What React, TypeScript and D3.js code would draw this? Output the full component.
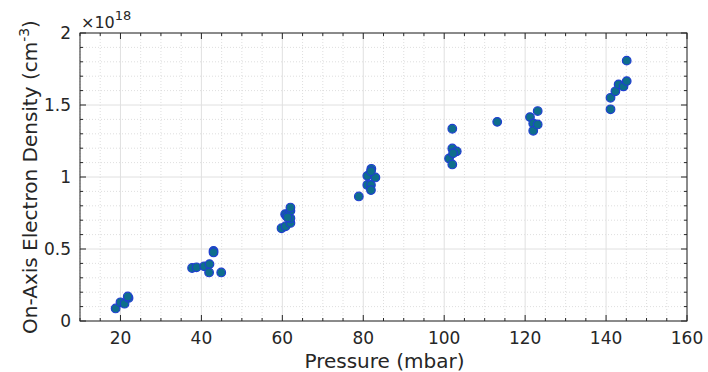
import React from "react";
import * as d3 from "d3";

const pressure = [
  18.8, 20, 21, 22, 21.8,
  37.7, 38.8, 40.7, 42, 41.9, 43, 43, 44.9,
  59.8, 60.8, 60.7, 61, 62, 62, 62, 62, 61.3,
  78.9, 81, 81, 81.9, 82, 81.9, 83, 81.9,
  101.2, 102, 102, 103.1, 102, 102.2,
  113.1,
  121.2, 122, 123.1, 122, 123.1,
  141.1, 141.1, 142.3, 143.1, 144.3, 145.1, 145.1,
];
const density = [
  0.087, 0.13, 0.12, 0.16, 0.17,
  0.368, 0.373, 0.38, 0.395, 0.337, 0.487, 0.476, 0.337,
  0.644, 0.658, 0.742, 0.73, 0.681, 0.714, 0.765, 0.788, 0.72,
  0.865, 1.008, 0.945, 0.945, 1.057, 0.909, 0.997, 1.04,
  1.129, 1.087, 1.198, 1.178, 1.335, 1.165,
  1.383,
  1.416, 1.372, 1.458, 1.321, 1.365,
  1.55, 1.47, 1.595, 1.643, 1.629, 1.666, 1.808,
];
const xTicks = [20, 40, 60, 80, 100, 120, 140, 160];
const yTicks = [0, 0.5, 1, 1.5, 2];

export default function App() {
  const W = 708, H = 372;
  const L = 80, R = 687, T = 33, B = 321;
  const x = d3.scaleLinear().domain([10, 160]).range([L, R]);
  const y = d3.scaleLinear().domain([0, 2]).range([B, T]);
  const xAllMinor = d3.range(10, 161, 5).filter((v) => !xTicks.includes(v));
  const yMinor = d3.range(0, 20, 1).map((v) => v / 10).filter((v) => !yTicks.some((t) => Math.abs(t - v) < 1e-9));
  const axisColor = "#262626";
  const font = "DejaVu Sans, sans-serif";
  return (
    <svg width={W} height={H} style={{ position: "absolute", left: 0, top: 0, background: "#fff" }}>
      <rect x={0} y={0} width={W} height={H} fill="#fff" />
      {xAllMinor.map((v) => (
        <line key={"xm" + v} x1={x(v)} x2={x(v)} y1={T} y2={B} stroke="#d6d6d6" strokeWidth={0.8} strokeDasharray="1,2" />
      ))}
      {yMinor.map((v) => (
        <line key={"ym" + v} x1={L} x2={R} y1={y(v)} y2={y(v)} stroke="#d6d6d6" strokeWidth={0.8} strokeDasharray="1,2" />
      ))}
      {xTicks.map((v) => (
        <line key={"xg" + v} x1={x(v)} x2={x(v)} y1={T} y2={B} stroke="#e0e0e0" strokeWidth={1} />
      ))}
      {yTicks.map((v) => (
        <line key={"yg" + v} x1={L} x2={R} y1={y(v)} y2={y(v)} stroke="#e0e0e0" strokeWidth={1} />
      ))}
      {xTicks.map((v) => (
        <g key={"xt" + v}>
          <line x1={x(v)} x2={x(v)} y1={B} y2={B - 6} stroke={axisColor} />
          <line x1={x(v)} x2={x(v)} y1={T} y2={T + 6} stroke={axisColor} />
          <text x={x(v)} y={B + 23} textAnchor="middle" fontFamily={font} fontSize={17} fill={axisColor}>{v}</text>
        </g>
      ))}
      {xAllMinor.map((v) => (
        <g key={"xmt" + v}>
          <line x1={x(v)} x2={x(v)} y1={B} y2={B - 3} stroke={axisColor} />
          <line x1={x(v)} x2={x(v)} y1={T} y2={T + 3} stroke={axisColor} />
        </g>
      ))}
      {yTicks.map((v) => (
        <g key={"yt" + v}>
          <line x1={L} x2={L + 6} y1={y(v)} y2={y(v)} stroke={axisColor} />
          <line x1={R} x2={R - 6} y1={y(v)} y2={y(v)} stroke={axisColor} />
          <text x={L - 9} y={y(v) + 6} textAnchor="end" fontFamily={font} fontSize={17} fill={axisColor}>{v}</text>
        </g>
      ))}
      {yMinor.map((v) => (
        <g key={"ymt" + v}>
          <line x1={L} x2={L + 3} y1={y(v)} y2={y(v)} stroke={axisColor} />
          <line x1={R} x2={R - 3} y1={y(v)} y2={y(v)} stroke={axisColor} />
        </g>
      ))}
      <rect x={L} y={T} width={R - L} height={B - T} fill="none" stroke={axisColor} strokeWidth={1} />
      <text x={L + 1} y={T - 5} fontFamily={font} fontSize={16} fill={axisColor}>
        ×10<tspan dy={-8} fontSize={13}>18</tspan>
      </text>
      {pressure.map((p, i) => (
        <circle key={"p" + i} cx={x(p)} cy={y(density[i])} r={4.3} fill="#0e6e8c" stroke="#1f3fd0" strokeWidth={1.2} />
      ))}
      <text x={(L + R) / 2 + 1} y={368} textAnchor="middle" fontFamily={font} fontSize={20} fill={axisColor}>Pressure (mbar)</text>
      <text transform={`translate(37,${(T + B) / 2}) rotate(-90)`} textAnchor="middle" fontFamily={font} fontSize={20} fill={axisColor}>
        On-Axis Electron Density (cm<tspan dy={-8} fontSize={14}>-3</tspan><tspan dy={8}>)</tspan>
      </text>
    </svg>
  );
}
